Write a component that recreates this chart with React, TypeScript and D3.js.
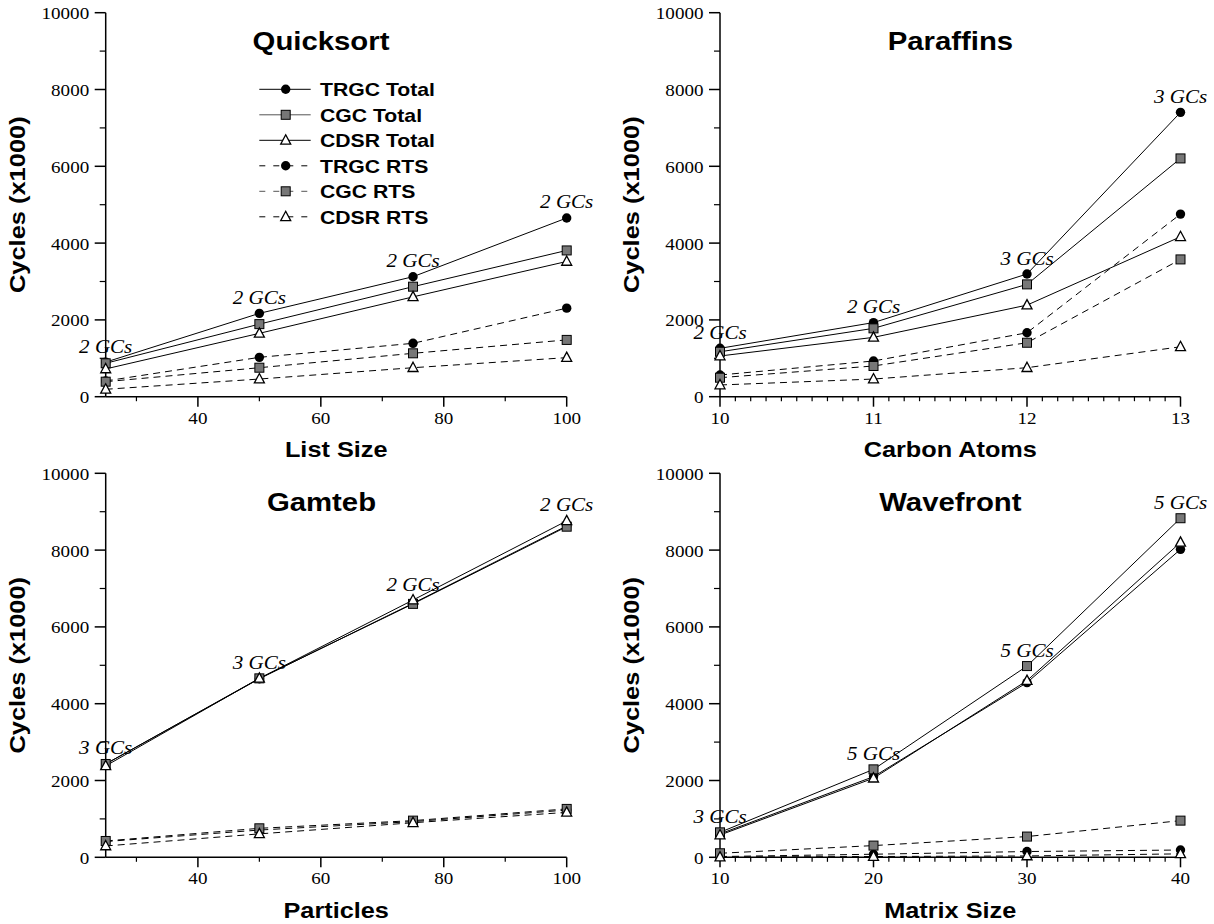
import * as d3 from "d3";

// series order: TRGC Total, CGC Total, CDSR Total, TRGC RTS, CGC RTS, CDSR RTS
const seriesNames = ["TRGC Total", "CGC Total", "CDSR Total", "TRGC RTS", "CGC RTS", "CDSR RTS"];
const seriesMarkers = ["circle", "square", "triangle", "circle", "square", "triangle"];
const seriesDashed = [false, false, false, true, true, true];

const yTicks = [0, 2000, 4000, 6000, 8000, 10000];

// Quicksort
const quicksortX = [25, 50, 75, 100];
const quicksortTRGCTotal = [900, 2170, 3125, 4654];
const quicksortCGCTotal = [870, 1890, 2865, 3809];
const quicksortCDSRTotal = [723, 1650, 2600, 3522];
const quicksortTRGCRts = [410, 1025, 1390, 2306];
const quicksortCGCRts = [391, 755, 1130, 1479];
const quicksortCDSRRts = [193, 460, 755, 1017];
const quicksortGCs = ["2 GCs", "2 GCs", "2 GCs", "2 GCs"];
const quicksortTicks = [40, 60, 80, 100];

// Paraffins
const paraffinsX = [10, 11, 12, 13];
const paraffinsTRGCTotal = [1260, 1930, 3195, 7405];
const paraffinsCGCTotal = [1170, 1780, 2925, 6205];
const paraffinsCDSRTotal = [1060, 1545, 2385, 4165];
const paraffinsTRGCRts = [565, 930, 1665, 4755];
const paraffinsCGCRts = [495, 800, 1405, 3575];
const paraffinsCDSRRts = [305, 460, 755, 1300];
const paraffinsGCs = ["2 GCs", "2 GCs", "3 GCs", "3 GCs"];
const paraffinsTicks = [10, 11, 12, 13];

// Gamteb
const gamtebX = [25, 50, 75, 100];
const gamtebTRGCTotal = [2430, 4650, 6615, 8630];
const gamtebCGCTotal = [2430, 4660, 6600, 8610];
const gamtebCDSRTotal = [2380, 4660, 6700, 8760];
const gamtebTRGCRts = [410, 710, 930, 1230];
const gamtebCGCRts = [425, 755, 955, 1260];
const gamtebCDSRRts = [295, 610, 900, 1170];
const gamtebGCs = ["3 GCs", "3 GCs", "2 GCs", "2 GCs"];
const gamtebTicks = [40, 60, 80, 100];

// Wavefront
const wavefrontX = [10, 20, 30, 40];
const wavefrontTRGCTotal = [610, 2100, 4550, 8020];
const wavefrontCGCTotal = [650, 2290, 4980, 8830];
const wavefrontCDSRTotal = [580, 2060, 4600, 8200];
const wavefrontTRGCRts = [20, 80, 150, 190];
const wavefrontCGCRts = [105, 305, 540, 955];
const wavefrontCDSRRts = [5, 20, 35, 90];
const wavefrontGCs = ["3 GCs", "5 GCs", "5 GCs", "5 GCs"];
const wavefrontTicks = [10, 20, 30, 40];

const SANS = "'Liberation Sans', Arial, Helvetica, sans-serif";
const SERIF = "'Liberation Serif', 'Times New Roman', Times, serif";

const panels = [
  {
    title: "Quicksort", xLabel: "List Size", xs: quicksortX, xDomain: [25, 100], ticks: quicksortTicks, minorStep: 10,
    series: [quicksortTRGCTotal, quicksortCGCTotal, quicksortCDSRTotal, quicksortTRGCRts, quicksortCGCRts, quicksortCDSRRts],
    gcs: quicksortGCs, left: 105.7, right: 566.7, top: 12.7, bottom: 396.7, titleX: 321, legend: true,
  },
  {
    title: "Paraffins", xLabel: "Carbon Atoms", xs: paraffinsX, xDomain: [10, 13], ticks: paraffinsTicks, minorStep: 0.1,
    series: [paraffinsTRGCTotal, paraffinsCGCTotal, paraffinsCDSRTotal, paraffinsTRGCRts, paraffinsCGCRts, paraffinsCDSRRts],
    gcs: paraffinsGCs, left: 720, right: 1180.5, top: 12.7, bottom: 396.7, titleX: 950.4, legend: false,
  },
  {
    title: "Gamteb", xLabel: "Particles", xs: gamtebX, xDomain: [25, 100], ticks: gamtebTicks, minorStep: 10,
    series: [gamtebTRGCTotal, gamtebCGCTotal, gamtebCDSRTotal, gamtebTRGCRts, gamtebCGCRts, gamtebCDSRRts],
    gcs: gamtebGCs, left: 105.7, right: 566.7, top: 473.3, bottom: 857.3, titleX: 321.5, legend: false,
  },
  {
    title: "Wavefront", xLabel: "Matrix Size", xs: wavefrontX, xDomain: [10, 40], ticks: wavefrontTicks, minorStep: 1,
    series: [wavefrontTRGCTotal, wavefrontCGCTotal, wavefrontCDSRTotal, wavefrontTRGCRts, wavefrontCGCRts, wavefrontCDSRRts],
    gcs: wavefrontGCs, left: 720, right: 1180.5, top: 473.3, bottom: 857.3, titleX: 950.4, legend: false,
  },
];

// text that is a little wider than the stock font, like the original
function SText({ x, y, sx = 1.15, rotate = 0, anchor = "middle", font = SANS, size, weight = "normal", italic = false, children }: any) {
  return (
    <text
      transform={`translate(${x},${y}) rotate(${rotate}) scale(${sx},1)`}
      textAnchor={anchor}
      fontFamily={font}
      fontSize={size}
      fontWeight={weight}
      fontStyle={italic ? "italic" : "normal"}
      fill="#000"
    >
      {children}
    </text>
  );
}

function Marker({ kind, x, y }: { kind: string; x: number; y: number }) {
  if (kind === "circle") return <circle cx={x} cy={y} r={4.7} fill="#000" />;
  if (kind === "square")
    return <rect x={x - 4.5} y={y - 4.5} width={9} height={9} fill="#777" stroke="#000" strokeWidth={1} />;
  return (
    <path
      d={`M${x},${y - 5.5}L${x + 5},${y + 3.8}L${x - 5},${y + 3.8}Z`}
      fill="#fff"
      stroke="#000"
      strokeWidth={1.3}
      strokeLinejoin="miter"
    />
  );
}

function Panel({ p }: { p: any }) {
  const x = d3.scaleLinear().domain(p.xDomain).range([p.left, p.right]);
  const y = d3.scaleLinear().domain([0, 10000]).range([p.bottom, p.top]);
  const line = d3
    .line<[number, number]>()
    .x((d) => x(d[0]))
    .y((d) => y(d[1]));

  const [x0, x1] = p.xDomain;
  const minor = d3
    .range(Math.ceil(x0 / p.minorStep) * p.minorStep, x1 + p.minorStep / 2, p.minorStep)
    .filter((v: number) => !p.ticks.some((t: number) => Math.abs(t - v) < p.minorStep / 10) && v > x0 + 1e-9);
  const yMinor = d3.range(1000, 10000, 2000);

  const totals = p.xs.map((_: number, i: number) => Math.max(p.series[0][i], p.series[1][i], p.series[2][i]));

  return (
    <g>
      {/* axes */}
      <line x1={p.left} x2={p.left} y1={y(0)} y2={y(10000)} stroke="#000" strokeWidth={1.5} />
      <line x1={p.left} x2={p.right} y1={y(0)} y2={y(0)} stroke="#000" strokeWidth={1.5} />
      {yTicks.map((t) => (
        <g key={"yt" + t}>
          <line x1={p.left - 11} x2={p.left} y1={y(t)} y2={y(t)} stroke="#000" strokeWidth={1.5} />
          <SText x={p.left - 16.5} y={y(t) + 6.5} anchor="end" font={SERIF} size={17.5} sx={1.09}>
            {t}
          </SText>
        </g>
      ))}
      {yMinor.map((t) => (
        <line key={"ym" + t} x1={p.left - 6} x2={p.left} y1={y(t)} y2={y(t)} stroke="#000" strokeWidth={1.2} />
      ))}
      {p.ticks.map((t: number) => (
        <g key={"xt" + t}>
          <line x1={x(t)} x2={x(t)} y1={y(0)} y2={y(0) + 10} stroke="#000" strokeWidth={1.5} />
          <SText x={x(t)} y={y(0) + 27} font={SERIF} size={17.5} sx={1.09}>
            {t}
          </SText>
        </g>
      ))}
      {minor.map((t: number) => (
        <line key={"xm" + t} x1={x(t)} x2={x(t)} y1={y(0)} y2={y(0) + 4.5} stroke="#000" strokeWidth={1.2} />
      ))}

      {/* labels */}
      <SText x={p.titleX} y={p.top + 37.5} size={25.5} weight="bold">
        {p.title}
      </SText>
      <SText x={(p.left + p.right) / 2} y={p.bottom + 60.7} size={22} weight="bold">
        {p.xLabel}
      </SText>
      <SText x={p.left - 81} y={(p.top + p.bottom) / 2} rotate={-90} size={22.5} weight="bold" sx={1.13}>
        Cycles (x1000)
      </SText>

      {/* series lines */}
      {p.series.map((vals: number[], si: number) => (
        <path
          key={"l" + si}
          d={line(p.xs.map((v: number, i: number) => [v, vals[i]])) || ""}
          fill="none"
          stroke="#000"
          strokeWidth={1}
          strokeDasharray={seriesDashed[si] ? "7,5" : undefined}
        />
      ))}
      {[3, 4, 5, 0, 1, 2].map((si) =>
        p.xs.map((v: number, i: number) => (
          <Marker key={`m${si}-${i}`} kind={seriesMarkers[si]} x={x(v)} y={y(p.series[si][i])} />
        ))
      )}

      {/* GC annotations */}
      {p.gcs.map((g: string, i: number) => (
        <SText key={"gc" + i} x={x(p.xs[i])} y={y(totals[i]) - 9.5} font={SERIF} size={18} italic sx={1.17}>
          {g}
        </SText>
      ))}

      {p.legend && (
        <g>
          {seriesNames.map((n, i) => {
            const cy = 89.3 + i * 25.5;
            return (
              <g key={"lg" + i}>
                <line
                  x1={259.3}
                  x2={310.7}
                  y1={cy}
                  y2={cy}
                  stroke={seriesMarkers[i] === "square" ? "#555" : "#000"}
                  strokeWidth={1}
                  strokeDasharray={seriesDashed[i] ? "6,8" : undefined}
                />
                <Marker kind={seriesMarkers[i]} x={285.7} y={cy} />
                <SText x={320} y={cy + 6.7} anchor="start" size={18.6} weight="bold" sx={1.14}>
                  {n}
                </SText>
              </g>
            );
          })}
        </g>
      )}
    </g>
  );
}

export default function App() {
  return (
    <div style={{ position: "absolute", left: 0, top: 0 }}>
      <svg width={1214} height={924} viewBox="0 0 1214 924" style={{ display: "block", background: "#fff" }}>
        {panels.map((p) => (
          <Panel key={p.title} p={p} />
        ))}
      </svg>
    </div>
  );
}
